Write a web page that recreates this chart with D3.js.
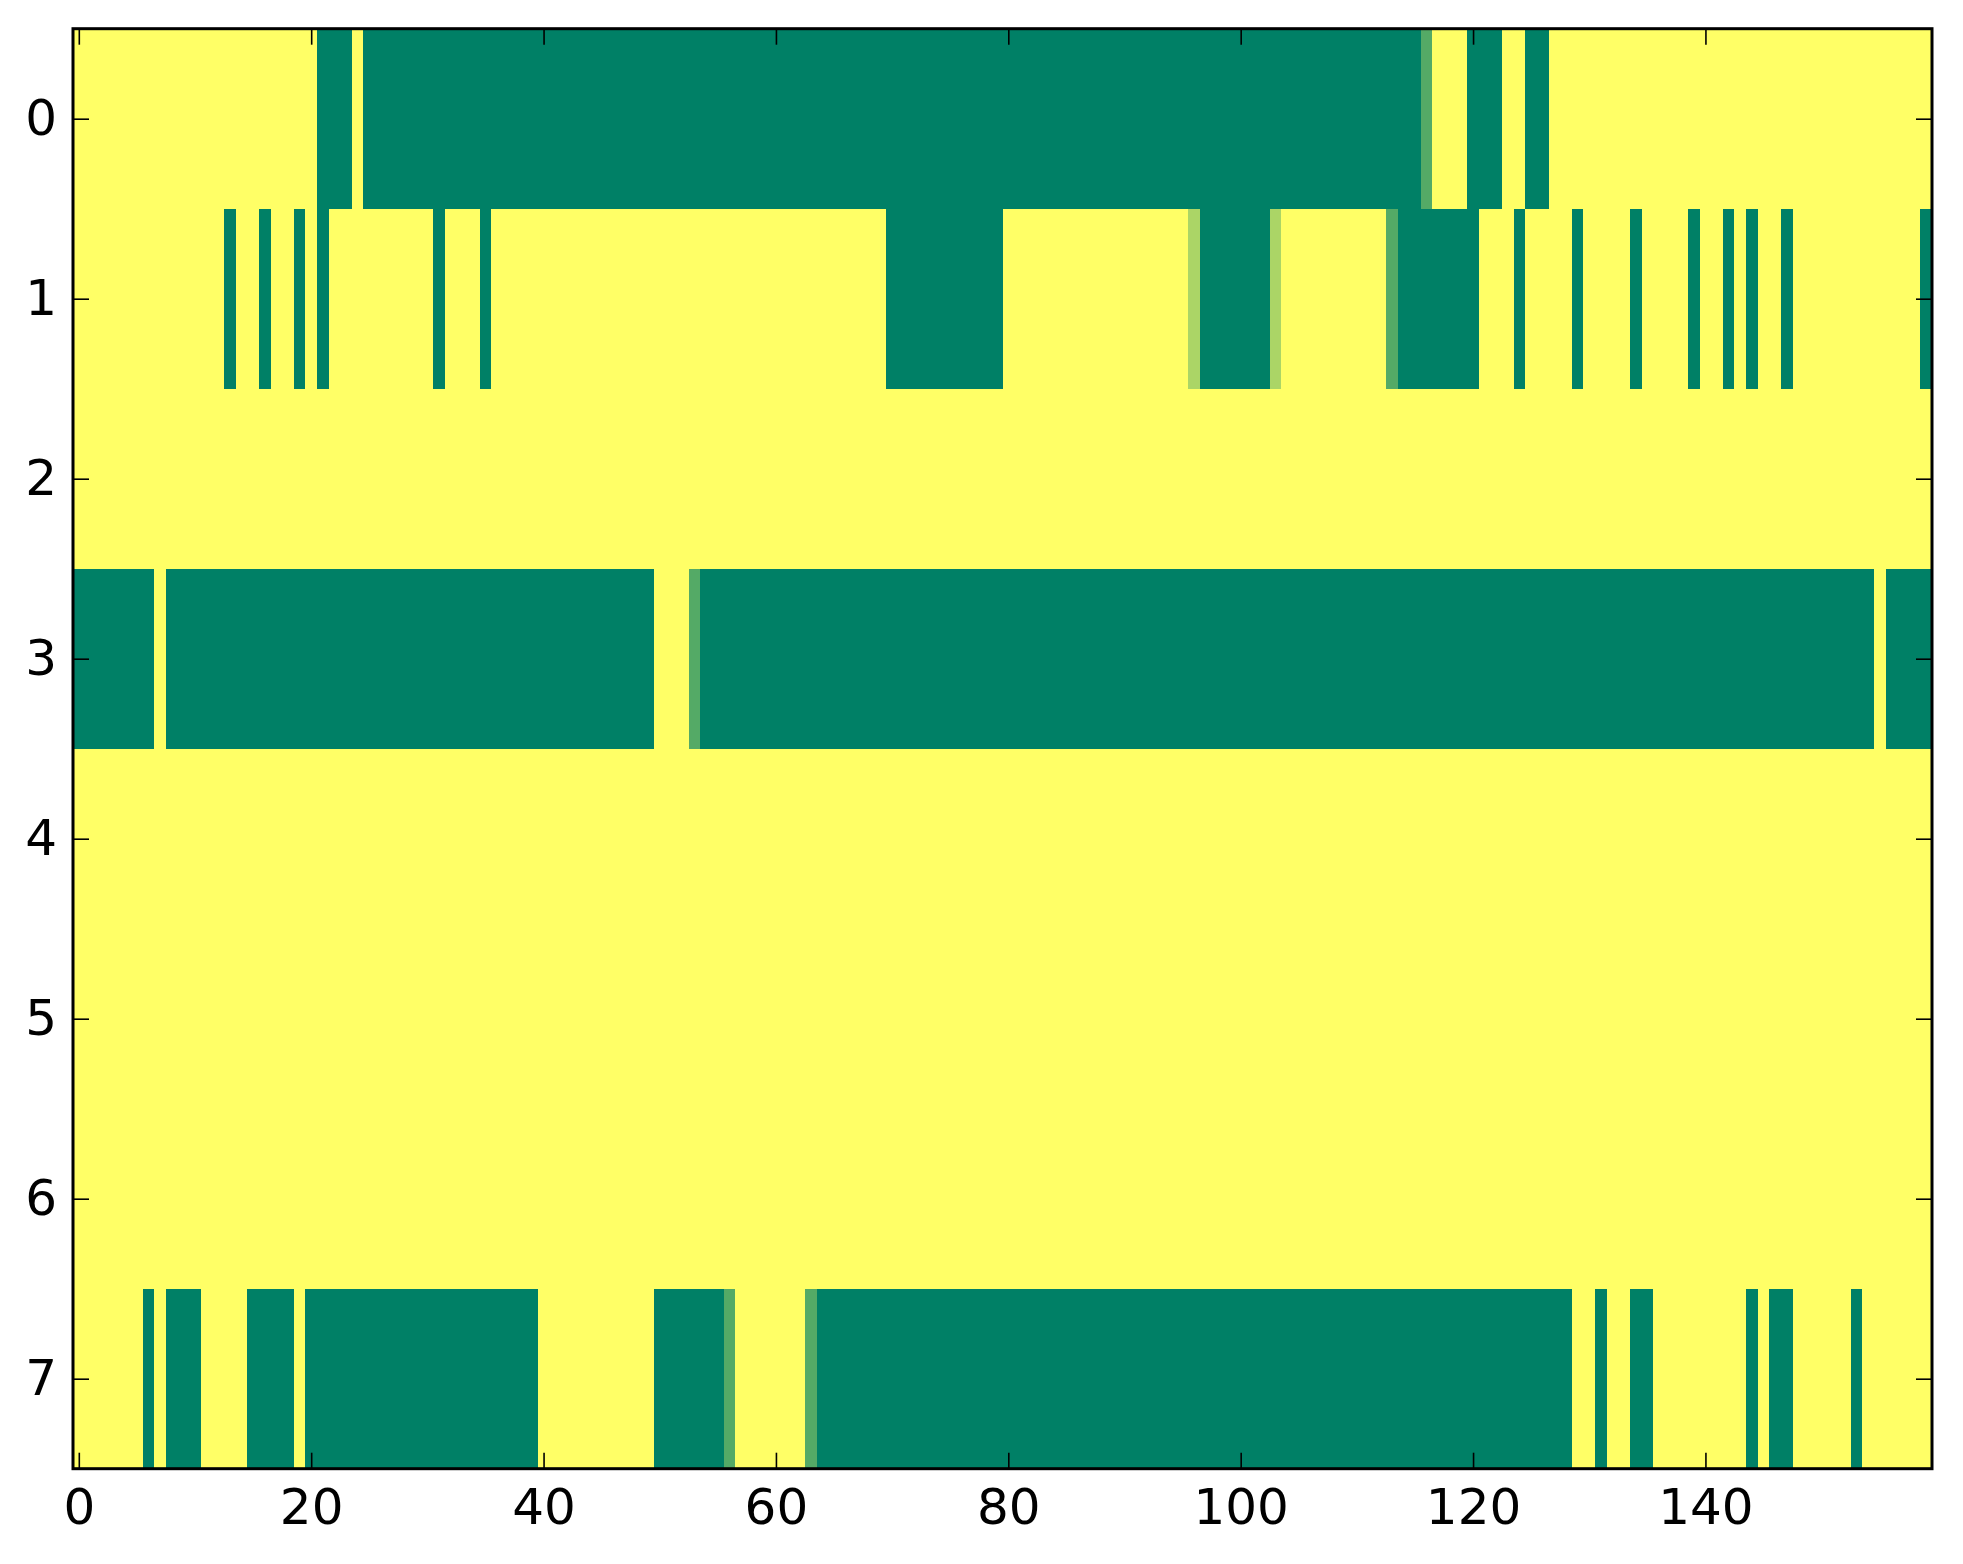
<!DOCTYPE html>
<html>
<head>
<meta charset="utf-8">
<script src="https://cdn.jsdelivr.net/npm/d3@7"></script>
<style>
  body { margin: 0; background: #fff; }
  svg { display: block; }
  .tick text { font-family: "DejaVu Sans", sans-serif; font-size: 50px; fill: #000; }
  .tick line { stroke: #000; stroke-width: 1.6; }
</style>
</head>
<body>
<svg></svg>
<script>
// each row is a list of [value, run length] pairs, read left to right
const row0 = [[1,21],[0,3],[1,1],[0,91],[0.33,1],[1,3],[0,3],[1,2],[0,2],[1,33]]
const row1 = [[1,13],[0,1],[1,2],[0,1],[1,2],[0,1],[1,1],[0,1],[1,9],[0,1],[1,3],[0,1],
  [1,34],[0,10],[1,16],[0.67,1],[0,6],[0.67,1],[1,9],[0.33,1],[0,7],[1,3],[0,1],[1,4],
  [0,1],[1,4],[0,1],[1,4],[0,1],[1,2],[0,1],[1,1],[0,1],[1,2],[0,1],[1,11],[0,1]]
const row2 = [[1,160]]
const row3 = [[0,7],[1,1],[0,42],[1,3],[0.33,1],[0,101],[1,1],[0,4]]
const row4 = [[1,160]]
const row5 = [[1,160]]
const row6 = [[1,160]]
const row7 = [[1,6],[0,1],[1,1],[0,3],[1,4],[0,4],[1,1],[0,20],[1,10],[0,6],[0.33,1],
  [1,6],[0.33,1],[0,65],[1,2],[0,1],[1,2],[0,2],[1,8],[0,1],[1,1],[0,2],[1,5],[0,1],[1,6]]

const rows = [row0, row1, row2, row3, row4, row5, row6, row7]
const nCols = 160
const xTicks = [0, 20, 40, 60, 80, 100, 120, 140]
const yTicks = [0, 1, 2, 3, 4, 5, 6, 7]

const W = 1963, H = 1564
const svg = d3.select("svg").attr("width", W).attr("height", H)

const plotLeft = 73, plotRight = 1932, plotTop = 28.7, plotBottom = 1468.7

const x = d3.scaleLinear().domain([-0.5, nCols - 0.5]).range([plotLeft, plotRight])
const y = d3.scaleLinear().domain([-0.5, rows.length - 0.5]).range([plotTop, plotBottom])

// summer colormap: 0 -> green, 1 -> yellow
const color = d3.scaleLinear().domain([0, 1]).range(["#008066", "#ffff66"]).interpolate(d3.interpolateRgb)

// unpack the runs into single cells
const cells = []
rows.forEach((runs, r) => {
  let c = 0
  runs.forEach(([v, n]) => {
    for (let k = 0; k < n; k++) { cells.push({ r: r, c: c, v: v }); c++ }
  })
})

svg.append("g")
  .attr("shape-rendering", "crispEdges")
  .selectAll("rect")
  .data(cells)
  .join("rect")
  .attr("x", d => x(d.c - 0.5))
  .attr("y", d => y(d.r - 0.5))
  .attr("width", d => x(d.c + 0.5) - x(d.c - 0.5) + 0.3)
  .attr("height", d => y(d.r + 0.5) - y(d.r - 0.5) + 0.3)
  .attr("fill", d => color(d.v))

// ticks point inward on all four sides
const tick = 16

svg.append("g")
  .attr("transform", `translate(0,${plotBottom})`)
  .call(d3.axisBottom(x).tickValues(xTicks).tickSizeInner(-tick).tickSizeOuter(0).tickPadding(20))
  .call(g => g.select(".domain").remove())

svg.append("g")
  .attr("transform", `translate(0,${plotTop})`)
  .call(d3.axisTop(x).tickValues(xTicks).tickSizeInner(-tick).tickSizeOuter(0).tickFormat(""))
  .call(g => g.select(".domain").remove())

svg.append("g")
  .attr("transform", `translate(${plotLeft},0)`)
  .call(d3.axisLeft(y).tickValues(yTicks).tickSizeInner(-tick).tickSizeOuter(0).tickPadding(16))
  .call(g => g.select(".domain").remove())

svg.append("g")
  .attr("transform", `translate(${plotRight},0)`)
  .call(d3.axisRight(y).tickValues(yTicks).tickSizeInner(-tick).tickSizeOuter(0).tickFormat(""))
  .call(g => g.select(".domain").remove())

// frame
svg.append("rect")
  .attr("x", plotLeft).attr("y", plotTop)
  .attr("width", plotRight - plotLeft).attr("height", plotBottom - plotTop)
  .attr("fill", "none")
  .attr("stroke", "#000")
  .attr("stroke-width", 3)
</script>
</body>
</html>
